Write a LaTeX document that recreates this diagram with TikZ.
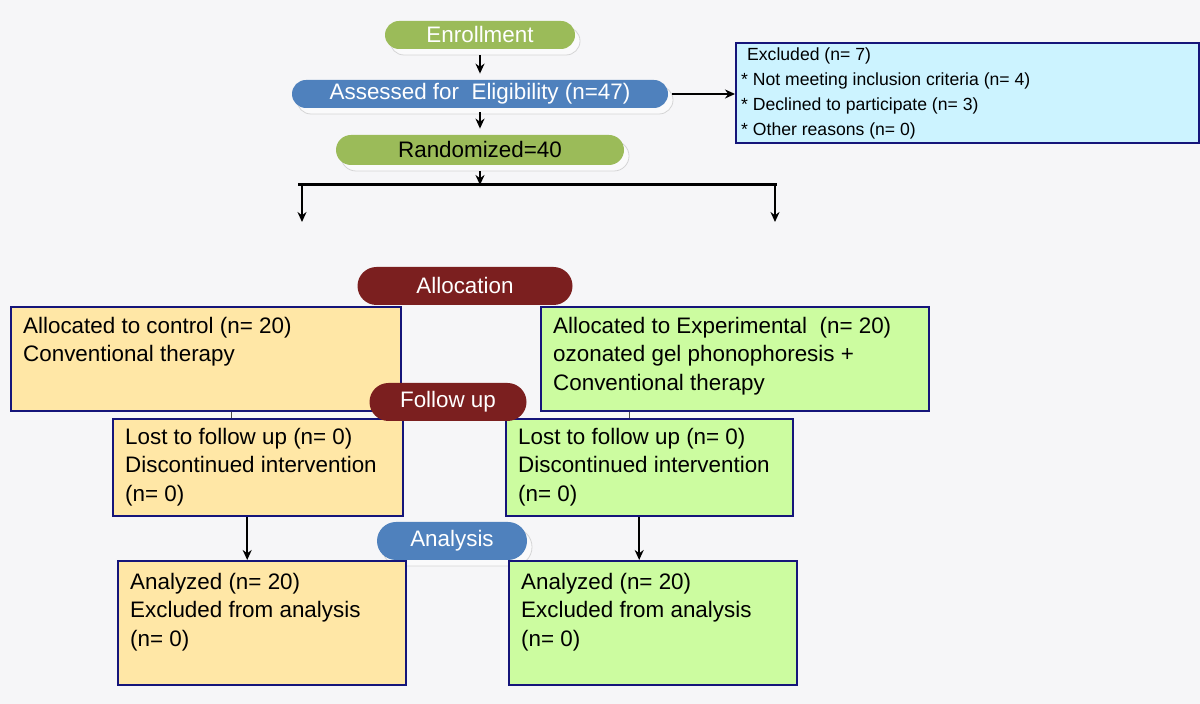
\documentclass[tikz,border=0pt]{standalone}
\usepackage{fontspec}
\setmainfont{Liberation Sans}
\usetikzlibrary{arrows.meta,shapes.misc,shadows}
\definecolor{pillgreen}{HTML}{9BBB59}
\definecolor{pillblue}{HTML}{4F81BD}
\definecolor{pillred}{HTML}{7B1F1F}
\definecolor{boxline}{HTML}{15157A}
\definecolor{ctlfill}{HTML}{FFE7A6}
\definecolor{expfill}{HTML}{CCFCA0}
\definecolor{exclfill}{HTML}{CCF3FF}
\definecolor{bgpanel}{HTML}{F6F6F8}
\newcommand{\boxtxt}[4][13pt]{\parbox[c][#3][t]{#2}{\rule{0pt}{#1}#4}}

\begin{document}
\begin{tikzpicture}[x=0.5pt,y=-0.5pt,font=\fontsize{11.2}{14.25}\selectfont,
 pill/.style={rounded rectangle,inner sep=0pt,text=white},
 shade/.style={drop shadow={shadow xshift=2.5pt,shadow yshift=-3pt,fill=white,draw=black!30}},
 flowbox/.style={draw=boxline,line width=1.2pt,anchor=north west,inner xsep=6pt,inner ysep=0pt},
 arr/.style={-{Stealth[length=5pt,width=4.5pt]},line width=0.9pt},
 link/.style={draw=black!70,line width=0.6pt}]
\fill[bgpanel] (0,0) rectangle (1200,704);
\useasboundingbox (0,0) rectangle (1200,704);
% enrollment part
\node[pill,shade,fill=pillgreen,minimum width=95pt,minimum height=14pt] (enroll) at (480,35) {Enrollment};
\node[pill,shade,fill=pillblue,minimum width=188pt,minimum height=14pt] (assess) at (480,94) {Assessed for \ Eligibility (n=47)};
\node[pill,shade,fill=pillgreen,text=black,minimum width=144pt,minimum height=15pt] (random) at (480,150) {Randomized=40};
\node[flowbox,fill=exclfill,inner xsep=2.5pt,font=\fontsize{8.8}{12.5}\selectfont] (excl) at (735,42)
 {\boxtxt[8.7pt]{226.5pt}{50pt}{\hspace{3pt}Excluded (n= 7)\\{}* Not meeting inclusion criteria (n= 4)\\{}* Declined to participate (n= 3)\\{}* Other reasons (n= 0)}};
\coordinate (split) at (480,185);
\coordinate (lsplit) at (302,185);
\coordinate (rsplit) at (775,185);
\coordinate (ldrop) at (302,222);
\coordinate (rdrop) at (775,222);
\draw[arr] ([yshift=-3pt]enroll.south) -- ([yshift=3pt]assess.north);
\draw[arr] ([yshift=-2pt]assess.south) -- ([yshift=3pt]random.north);
\draw[arr,line width=0.7pt,shorten <=2pt] (assess.east) -- (assess.east -| excl.west);
\draw[arr] ([yshift=-3pt]random.south) -- (split);
\draw[line width=1.5pt] ([xshift=-2pt]lsplit) -- ([xshift=1pt]rsplit);
\draw[arr] (lsplit) -- (ldrop);
\draw[arr] (rsplit) -- (rdrop);
% allocation
\node[pill,fill=pillred,minimum width=107.5pt,minimum height=19pt] (alloc) at (465,286) {Allocation};
\node[flowbox,fill=ctlfill] (ctl) at (10,306) {\boxtxt{183pt}{52pt}{Allocated to control (n= 20)\\Conventional therapy}};
\node[flowbox,fill=expfill] (exp) at (540,306) {\boxtxt{182pt}{52pt}{Allocated to Experimental \ (n= 20)\\ozonated gel phonophoresis +\\Conventional therapy}};
% follow up
\node[flowbox,fill=ctlfill] (lostc) at (112,418) {\boxtxt[12.5pt]{133pt}{48.5pt}{Lost to follow up (n= 0)\\Discontinued intervention\\(n= 0)}};
\node[flowbox,fill=expfill] (loste) at (505,418) {\boxtxt[12.5pt]{131.5pt}{48.5pt}{Lost to follow up (n= 0)\\Discontinued intervention\\(n= 0)}};
\draw[link] ([xshift=12.5pt]ctl.south) -- ([xshift=-13.5pt]lostc.north);
\draw[link] ([xshift=-53pt]exp.south) -- ([xshift=-10.25pt]loste.north);
\node[pill,fill=pillred,minimum width=78.5pt,minimum height=19pt] (follow) at (448,402) {Follow up};
% analysis
\node[pill,shade,fill=pillblue,minimum width=75pt,minimum height=19pt] (analysis) at (452,541) {Analysis};
\node[flowbox,fill=ctlfill] (anac) at (117,560) {\boxtxt[14pt]{132pt}{62pt}{Analyzed (n= 20)\\Excluded from analysis\\(n= 0)}};
\node[flowbox,fill=expfill] (anae) at (508,560) {\boxtxt[14pt]{132pt}{62pt}{Analyzed (n= 20)\\Excluded from analysis\\(n= 0)}};
\draw[arr] ([xshift=-5.5pt]lostc.south) -- ([xshift=-7.5pt]anac.north);
\draw[arr] ([xshift=-5.25pt]loste.south) -- ([xshift=-7pt]anae.north);
\end{tikzpicture}
\end{document}
